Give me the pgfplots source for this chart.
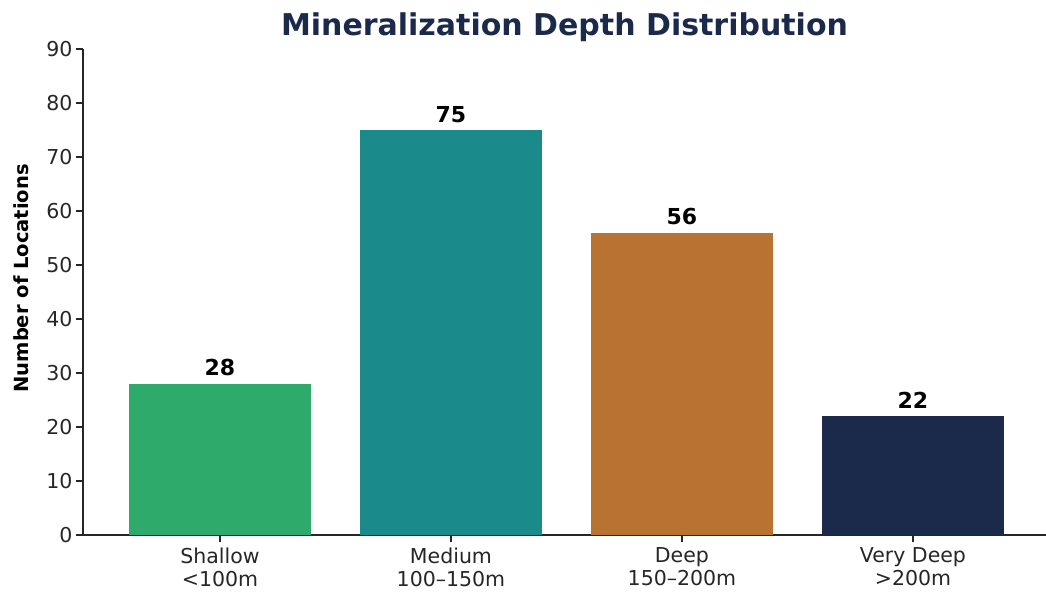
\documentclass[border=0pt]{standalone}
\usepackage{pgfplots}
\pgfplotsset{compat=1.18}
\usepackage{fontspec}
\setmainfont{DejaVu Sans}
\definecolor{cGreen}{HTML}{2EAA6A}
\definecolor{cTeal}{HTML}{1B8A8A}
\definecolor{cCopper}{HTML}{B87333}
\definecolor{cNavy}{HTML}{1B2A4A}
\definecolor{cAxis}{HTML}{262626}
\begin{document}
\begin{tikzpicture}
\useasboundingbox (-83pt,-60pt) rectangle (963pt,535pt);
\begin{axis}[
  at={(0,0)}, anchor=south west,
  scale only axis, width=963pt, height=486pt,
  xmin=-0.593, xmax=3.576, ymin=0, ymax=90,
  axis x line*=bottom, axis y line*=left,
  axis line style={-, line width=1.3pt, color=cAxis},
  tick style={color=cAxis, line width=1.2pt},
  tick align=outside, major tick length=7pt,
  xtick={0,1,2,3},
  xticklabels={{Shallow\\<100m},{Medium\\100–150m},{Deep\\150–200m},{Very Deep\\>200m}},
  xticklabel style={align=center, font=\fontsize{20.5}{23.5}\selectfont, text=cAxis, yshift=-2pt},
  ytick={0,10,...,90},
  yticklabel style={font=\fontsize{20.5}{21}\selectfont, text=cAxis},
  /pgf/number format/assume math mode=true,
  ylabel={Number of Locations},
  ylabel style={at={(axis description cs:-0.0644,0.528)}, anchor=center, font=\bfseries\fontsize{19.5}{20}\selectfont},
  title={Mineralization Depth Distribution},
  title style={at={(axis description cs:0.5,1)}, anchor=south, yshift=-2pt, font=\bfseries\fontsize{30}{32}\selectfont, text=cNavy},
  ybar, bar width=0.785, bar shift=0pt,
  nodes near coords,
  nodes near coords style={font=\bfseries\fontsize{22}{23}\selectfont, text=black, anchor=south, yshift=4pt},
  every axis plot/.append style={draw=none},
]
\addplot[fill=cGreen] coordinates {(0,28)};
\addplot[fill=cTeal] coordinates {(1,75)};
\addplot[fill=cCopper] coordinates {(2,56)};
\addplot[fill=cNavy] coordinates {(3,22)};
\end{axis}
\end{tikzpicture}
\end{document}
